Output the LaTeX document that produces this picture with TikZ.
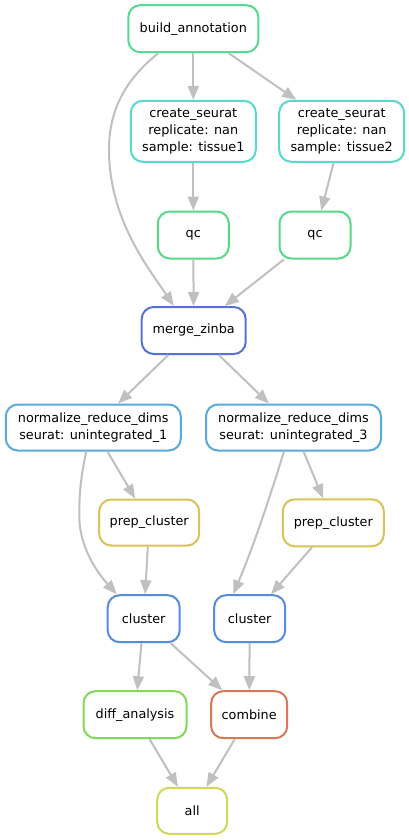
\documentclass[tikz,border=0pt]{standalone}
\usepackage{fontspec}
\setmainfont{DejaVu Sans}
\usetikzlibrary{arrows.meta}
\definecolor{cba}{RGB}{87,217,145}
\definecolor{ccs}{RGB}{87,217,205}
\definecolor{cqc}{RGB}{87,217,135}
\definecolor{cmz}{RGB}{87,113,217}
\definecolor{cnr}{RGB}{87,170,217}
\definecolor{cpc}{RGB}{217,195,87}
\definecolor{ccl}{RGB}{87,140,217}
\definecolor{cda}{RGB}{130,217,87}
\definecolor{ccb}{RGB}{217,120,87}
\definecolor{call}{RGB}{206,217,87}
\definecolor{edgegray}{RGB}{192,192,192}
\tikzset{
  rule/.style={draw=#1, fill=white, line width=2pt, rounded corners=12pt,
    rectangle, inner sep=0pt, align=center,
    font=\fontsize{12.8}{16.8}\selectfont},
  edge/.style={draw=edgegray, line width=2pt,
    -{Triangle[length=14pt,width=11pt]}},
}
\begin{document}
\begin{tikzpicture}[x=1pt,y=-1pt]
\useasboundingbox (0,0) rectangle (409,840);
\fill[white] (0,0) rectangle (409,840);
% nodes
\node[rule=cba, minimum width=130pt, minimum height=47pt] (ba) at (193.3,28.7) {build\_annotation};
\node[rule=ccs, minimum width=125pt, minimum height=61pt] (cs1) at (193.3,131.3) {create\_seurat\\replicate: nan\\sample: tissue1};
\node[rule=ccs, minimum width=125pt, minimum height=61pt] (cs2) at (341.7,131.3) {create\_seurat\\replicate: nan\\sample: tissue2};
\node[rule=cqc, minimum width=71pt, minimum height=47pt] (qc1) at (193.3,235) {qc};
\node[rule=cqc, minimum width=71pt, minimum height=47pt] (qc2) at (315,235) {qc};
\node[rule=cmz, minimum width=104pt, minimum height=47pt] (mz) at (193.7,330.5) {merge\_zinba};
\node[rule=cnr, minimum width=175pt, minimum height=46pt] (nr1) at (93.3,427.5) {normalize\_reduce\_dims\\seurat: unintegrated\_1};
\node[rule=cnr, minimum width=175pt, minimum height=46pt] (nr2) at (293.5,427.5) {normalize\_reduce\_dims\\seurat: unintegrated\_3};
\node[rule=cpc, minimum width=100pt, minimum height=46pt] (pc1) at (149.2,522.5) {prep\_cluster};
\node[rule=cpc, minimum width=101pt, minimum height=47pt] (pc2) at (333.3,522.8) {prep\_cluster};
\node[rule=ccl, minimum width=72pt, minimum height=47pt] (cl1) at (143.7,618.7) {cluster};
\node[rule=ccl, minimum width=71pt, minimum height=47pt] (cl2) at (249.7,618.7) {cluster};
\node[rule=cda, minimum width=103pt, minimum height=47pt] (da) at (135,714.7) {diff\_analysis};
\node[rule=ccb, minimum width=76pt, minimum height=47pt] (cb) at (249.2,714.7) {combine};
\node[rule=call, minimum width=70pt, minimum height=46pt] (all) at (192.2,810.8) {all};
% edges
\draw[edge] (ba) -- (cs1);
\draw[edge] (ba) -- (cs2);
\draw[edge] ([xshift=-35pt]ba.south) .. controls (125,80) and (109,110) .. (109,150)
  .. controls (109,220) and (150,270) .. ([xshift=-20pt]mz.north);
\draw[edge] (cs1) -- (qc1);
\draw[edge] (cs2) -- (qc2);
\draw[edge] (qc1) -- (mz);
\draw[edge] (qc2) -- (mz);
\draw[edge] (mz) -- (nr1);
\draw[edge] (mz) -- (nr2);
\draw[edge] (nr1) -- (pc1);
\draw[edge] ([xshift=-7pt]nr1.south) .. controls (81,475) and (79,495) .. (79.3,517)
  .. controls (79.5,545) and (95,570) .. ([xshift=-27pt]cl1.north);
\draw[edge] (pc1) -- (cl1);
\draw[edge] (nr2) -- (pc2);
\draw[edge] ([xshift=-9.5pt]nr2.south) .. controls (272,490) and (256,540) .. ([xshift=-16.4pt]cl2.north);
\draw[edge] (pc2) -- (cl2);
\draw[edge] (cl1) -- (da);
\draw[edge] (cl1) -- (cb);
\draw[edge] (cl2) -- (cb);
\draw[edge] (da) -- (all);
\draw[edge] (cb) -- (all);
\end{tikzpicture}
\end{document}
